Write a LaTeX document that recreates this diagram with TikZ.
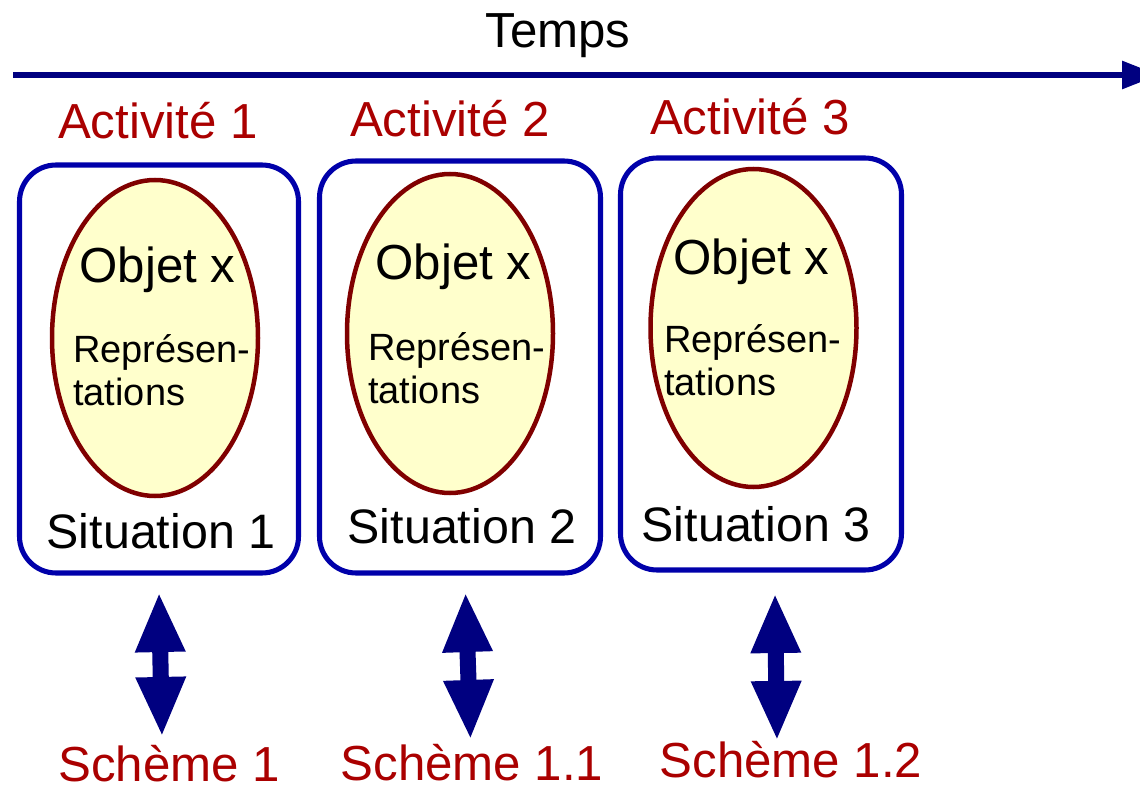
\documentclass[tikz,border=0pt]{standalone}
\usepackage{fontspec}
\setmainfont{Liberation Sans}
\usepackage{tikz}
\usetikzlibrary{shapes.geometric,arrows.meta}

\definecolor{actred}{RGB}{170,0,0}
\definecolor{boxblue}{RGB}{0,0,170}
\definecolor{arrowblue}{RGB}{0,0,128}
\definecolor{ellred}{RGB}{128,0,0}
\definecolor{ellfill}{RGB}{255,255,204}
\newcommand{\unitpx}{0.025cm}

\begin{document}
\begin{tikzpicture}[x=0.025cm, y=-0.025cm,
  txt/.style={anchor=base, inner sep=0pt},
  bigfont/.style={font=\fontsize{35pt}{42pt}\selectfont},
  situfont/.style={font=\fontsize{34.4pt}{41pt}\selectfont},
  repfont/.style={font=\fontsize{27pt}{32pt}\selectfont},
  situbox/.style={draw=boxblue, line width=3.6pt, rounded corners=26pt, inner sep=0pt},
  objell/.style={ellipse, draw=ellred, fill=ellfill, line width=3.2pt, inner sep=0pt, minimum width=206*\unitpx},
  dblarrow/.style={draw=arrowblue, line width=11.4pt, {Triangle[length=42.7pt, width=32.7pt]}-{Triangle[length=42.7pt, width=32.7pt]}},
  timearrow/.style={draw=arrowblue, line width=4.2pt, -{Triangle[length=26.3pt, width=19.2pt]}}]
\useasboundingbox (0,0) rectangle (1140,788);

\node[txt, bigfont] (temps) at (558,48) {Temps};
\coordinate (tstart) at (13,75);
\coordinate (tend) at (1159,75);
\draw[timearrow] (tstart) -- (tend);

\node[txt, bigfont, text=actred] (act1) at (158,139) {Activité 1};
\node[txt, bigfont, text=actred] (act2) at (450,137) {Activité 2};
\node[txt, bigfont, text=actred] (act3) at (750,135) {Activité 3};

\node[situbox, minimum width=279*\unitpx, minimum height=408*\unitpx] (sit1) at (159,369) {};
\node[situbox, minimum width=281*\unitpx, minimum height=412*\unitpx] (sit2) at (460,367) {};
\node[situbox, minimum width=281*\unitpx, minimum height=412*\unitpx] (sit3) at (761,364) {};

\node[objell, minimum height=316*\unitpx] (obj1) at (155,338) {};
\node[objell, minimum height=319*\unitpx] (obj2) at (450,333.5) {};
\node[objell, minimum height=318*\unitpx] (obj3) at (753.5,328) {};

\node[txt, bigfont] (objx1) at (157.5,283) {Objet x};
\node[txt, bigfont] (objx2) at (453.5,280) {Objet x};
\node[txt, bigfont] (objx3) at (751.5,275) {Objet x};

\node[txt, repfont, anchor=base west] (repa1) at (73,362) {Représen-};
\node[txt, repfont, anchor=base west] (repb1) at (73,405) {tations};
\node[txt, repfont, anchor=base west] (repa2) at (368,360) {Représen-};
\node[txt, repfont, anchor=base west] (repb2) at (368,403) {tations};
\node[txt, repfont, anchor=base west] (repa3) at (664,352) {Représen-};
\node[txt, repfont, anchor=base west] (repb3) at (664,395) {tations};

\node[txt, situfont] (stxt1) at (161,548) {Situation 1};
\node[txt, situfont] (stxt2) at (462,543) {Situation 2};
\node[txt, situfont] (stxt3) at (756,541) {Situation 3};

\coordinate (dtop1) at (159,592);
\coordinate (dbot1) at (162,737);
\coordinate (dtop2) at (465.5,592);
\coordinate (dbot2) at (470.5,740);
\coordinate (dtop3) at (775,593);
\coordinate (dbot3) at (777,741);
\draw[dblarrow] (dtop1) -- (dbot1);
\draw[dblarrow] (dtop2) -- (dbot2);
\draw[dblarrow] (dtop3) -- (dbot3);

\node[txt, bigfont, text=actred] (sch1) at (169,781) {Schème 1};
\node[txt, bigfont, text=actred] (sch2) at (472,780) {Schème 1.1};
\node[txt, bigfont, text=actred] (sch3) at (791,777) {Schème 1.2};
\end{tikzpicture}
\end{document}
